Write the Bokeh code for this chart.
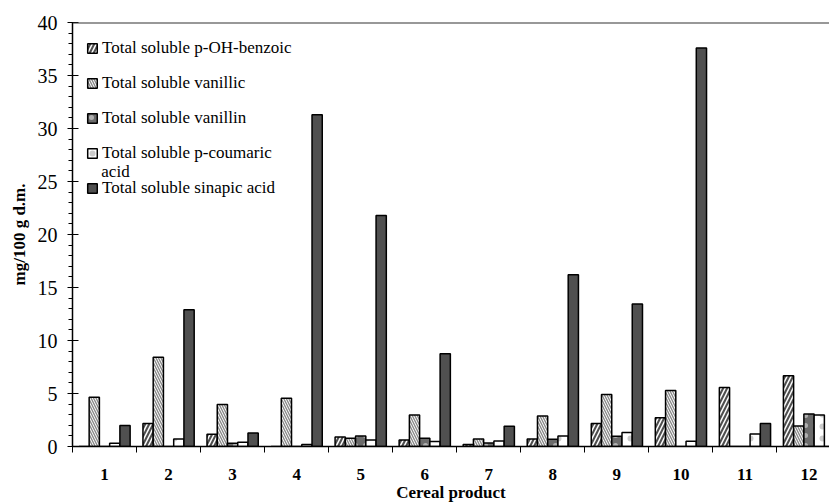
from bokeh.plotting import figure
from bokeh.models import (ColumnDataSource, Range1d, FixedTicker, Legend, LegendItem,
                          Span, Label)
from bokeh.transform import dodge
from bokeh.embed import file_html
from bokeh.resources import INLINE

products = [1, 2, 3, 4, 5, 6, 7, 8, 9, 10, 11, 12]
benzoic = [0, 2.18, 1.15, 0, 0.9, 0.62, 0.2, 0.71, 2.18, 2.72, 5.56, 6.68]
vanillic = [4.65, 8.43, 3.96, 4.56, 0.78, 2.96, 0.71, 2.87, 4.9, 5.28, 0, 1.93]
vanillin = [0, 0, 0.3, 0, 1.0, 0.78, 0.34, 0.68, 0.97, 0, 0, 3.06]
coumaric = [0.3, 0.71, 0.4, 0.2, 0.62, 0.47, 0.53, 1.0, 1.31, 0.5, 1.18, 2.96]
sinapic = [1.97, 12.9, 1.28, 31.3, 21.8, 8.75, 1.9, 16.2, 13.45, 37.6, 2.18, 0]

labels = ["Total soluble p-OH-benzoic", "Total soluble vanillic",
          "Total soluble vanillin", "Total soluble p-coumaric",
          "Total soluble sinapic acid"]

src = ColumnDataSource(dict(cat=products, benzoic=benzoic, vanillic=vanillic,
                            vanillin=vanillin, coumaric=coumaric, sinapic=sinapic))

SERIF = "Liberation Serif"

p = figure(width=829, height=504, output_backend="svg", toolbar_location=None,
           x_range=Range1d(0.5, 12.32), y_range=Range1d(0, 40),
           min_border_left=72, min_border_right=0, min_border_top=22,
           min_border_bottom=56)
p.outline_line_color = None
p.grid.visible = False
p.background_fill_color = "white"

w = 0.16
styles = [
    dict(field="benzoic", off=-0.32, fill_color="#4f4f4f", hatch_pattern="/",
         hatch_color="white", hatch_weight=1.5, hatch_scale=8),
    dict(field="vanillic", off=-0.16, fill_color="white", hatch_pattern="\\",
         hatch_color="#8a8a8a", hatch_weight=1.4, hatch_scale=5),
    dict(field="vanillin", off=0.0, fill_color="#6b6b6b", hatch_pattern=".",
         hatch_color="#b0b0b0", hatch_weight=0.8, hatch_scale=10),
    dict(field="coumaric", off=0.16, fill_color="white", hatch_pattern=".",
         hatch_color="#cccccc", hatch_weight=0.6, hatch_scale=12),
    dict(field="sinapic", off=0.32, fill_color="#505050", hatch_pattern=None,
         hatch_color="black", hatch_weight=1.0, hatch_scale=10),
]

renderers = []
for s in styles:
    kw = dict(fill_color=s["fill_color"], line_color="black", line_width=1.5)
    if s["hatch_pattern"]:
        kw.update(hatch_pattern=s["hatch_pattern"], hatch_color=s["hatch_color"],
                  hatch_weight=s["hatch_weight"], hatch_scale=s["hatch_scale"])
    r = p.vbar(x=dodge("cat", s["off"]), top=s["field"], width=w, bottom=0,
               source=src, **kw)
    renderers.append(r)

# top frame line
p.add_layout(Span(location=40, dimension="width", line_color="#333333", line_width=2))

# axes
xa = p.xaxis[0]
xa.ticker = FixedTicker(ticks=products, minor_ticks=[i + 0.5 for i in range(0, 13)])
xa.major_tick_out = 0
xa.major_tick_in = 0
xa.minor_tick_out = 6
xa.minor_tick_in = 0
xa.minor_tick_line_color = "black"
xa.axis_line_color = "black"
xa.axis_line_width = 1.5
xa.major_label_text_font = SERIF
xa.major_label_text_font_size = "17px"
xa.major_label_text_font_style = "bold"
xa.major_label_text_color = "black"
xa.major_label_standoff = 16
xa.axis_label = "Cereal product"
xa.axis_label_text_font = SERIF
xa.axis_label_text_font_size = "17px"
xa.axis_label_text_font_style = "bold"
xa.axis_label_text_color = "black"
xa.axis_label_standoff = 0

ya = p.yaxis[0]
ya.ticker = FixedTicker(ticks=[0, 5, 10, 15, 20, 25, 30, 35, 40],
                        minor_ticks=list(range(0, 41)))
ya.major_tick_out = 5
ya.major_tick_in = 6
ya.minor_tick_out = 4
ya.minor_tick_in = 0
ya.major_tick_line_color = "black"
ya.minor_tick_line_color = "black"
ya.axis_line_color = "black"
ya.axis_line_width = 1.5
ya.major_label_text_font = SERIF
ya.major_label_text_font_size = "20px"
ya.major_label_text_color = "black"
ya.major_label_standoff = 10
ya.axis_label = "mg/100 g d.m."
ya.axis_label_text_font = SERIF
ya.axis_label_text_font_size = "17px"
ya.axis_label_text_font_style = "bold"
ya.axis_label_text_color = "black"
ya.axis_label_standoff = 6

legend = Legend(items=[LegendItem(label=l, renderers=[r]) for l, r in zip(labels, renderers)],
                location=(14, 248), orientation="vertical",
                label_text_font=SERIF, label_text_font_size="17px",
                label_text_color="black", glyph_width=12, glyph_height=12,
                label_height=20, spacing=15, padding=0, margin=0,
                label_standoff=4, border_line_alpha=0, background_fill_alpha=0)
p.add_layout(legend)

p.add_layout(Label(x=0.95, y=25.9, text="acid", text_font=SERIF,
                   text_font_size="17px", text_baseline="middle", text_color="black"))

open("out.html", "w").write(file_html(p, INLINE))
